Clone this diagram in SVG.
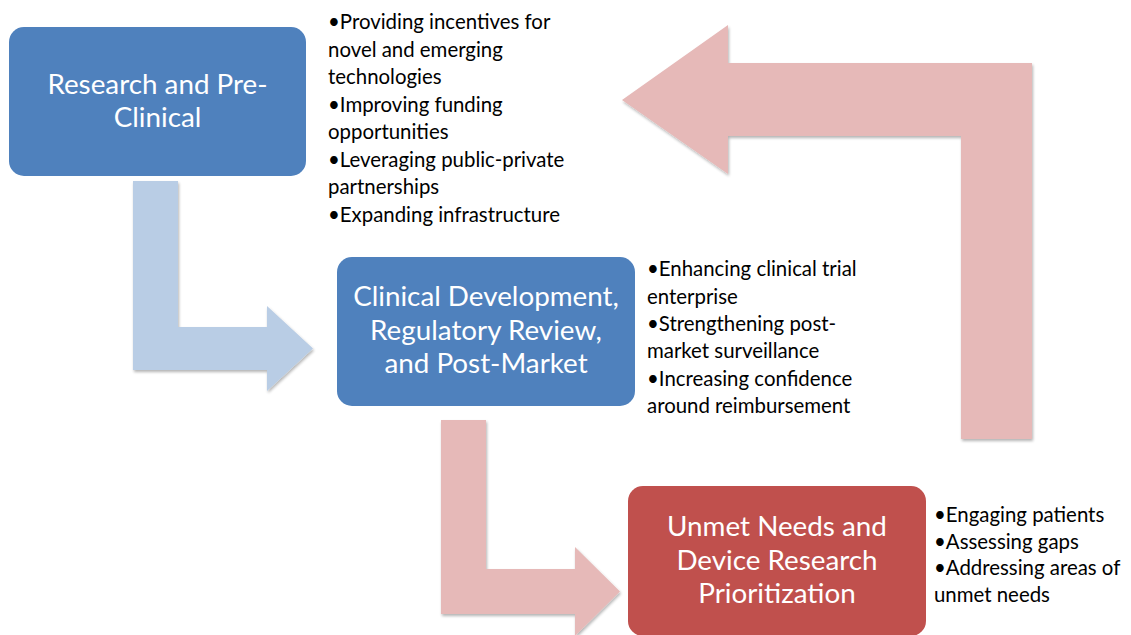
<svg xmlns="http://www.w3.org/2000/svg" width="1131" height="635" viewBox="0 0 1131 635">
  <style>
    .box-blue { fill: #4F81BD; }
    .box-red { fill: #C0504D; }
    .arrow-blue { fill: #B9CDE5; filter: url(#shadow); }
    .arrow-red { fill: #E6B9B8; filter: url(#shadow); }
    .title { font-family: Lato, "Liberation Sans", sans-serif; font-size: 27.8px; fill: #FFFFFF; text-anchor: middle; }
    .bullets { font-family: Lato, "Liberation Sans", sans-serif; font-size: 20.4px; fill: #000000; }
  </style>
  <defs>
    <filter id="shadow" x="-10%" y="-10%" width="130%" height="130%">
      <feGaussianBlur in="SourceAlpha" stdDeviation="1.5"/>
      <feOffset dx="1" dy="2" result="off"/>
      <feComponentTransfer><feFuncA type="linear" slope="0.3"/></feComponentTransfer>
      <feMerge><feMergeNode/><feMergeNode in="SourceGraphic"/></feMerge>
    </filter>
  </defs>
  <rect width="1131" height="635" fill="#FFFFFF"/>

  <!-- bent block arrows linking the stages -->
  <g id="connectors">
    <path class="arrow-blue" d="M133,181 H178 V327 H267 V306 L313,348.5 L267,391 V370 H133 Z"/>
    <path class="arrow-red" d="M441,420 H486 V569 H575 V547 L620,591.5 L575,636 V614 H441 Z"/>
    <path class="arrow-red" d="M622,100 L728,25 V63 H1032 V439 H961 V136 H728 V174 Z"/>
  </g>

  <g id="research">
    <rect class="box-blue" x="9" y="27" width="297" height="149" rx="15"/>
    <text class="title" x="157.5" y="94">Research and Pre-</text>
    <text class="title" x="157.5" y="127">Clinical</text>
    <text class="bullets">
      <tspan x="328" y="29">•Providing incentives for</tspan>
      <tspan x="328" y="56.5">novel and emerging</tspan>
      <tspan x="328" y="84">technologies</tspan>
      <tspan x="328" y="111.5">•Improving funding</tspan>
      <tspan x="328" y="139">opportunities</tspan>
      <tspan x="328" y="166.5">•Leveraging public-private</tspan>
      <tspan x="328" y="194">partnerships</tspan>
      <tspan x="328" y="221.5">•Expanding infrastructure</tspan>
    </text>
  </g>

  <g id="clinical">
    <rect class="box-blue" x="337" y="257" width="298" height="149" rx="15"/>
    <text class="title" x="486" y="306">Clinical Development,</text>
    <text class="title" x="486" y="340">Regulatory Review,</text>
    <text class="title" x="486" y="373">and Post-Market</text>
    <text class="bullets">
      <tspan x="647" y="276">•Enhancing clinical trial</tspan>
      <tspan x="647" y="303.5">enterprise</tspan>
      <tspan x="647" y="331">•Strengthening post-</tspan>
      <tspan x="647" y="358">market surveillance</tspan>
      <tspan x="647" y="385.5">•Increasing confidence</tspan>
      <tspan x="647" y="413">around reimbursement</tspan>
    </text>
  </g>

  <g id="unmet-needs">
    <rect class="box-red" x="628" y="486" width="298" height="150" rx="15"/>
    <text class="title" x="777" y="536">Unmet Needs and</text>
    <text class="title" x="777" y="570">Device Research</text>
    <text class="title" x="777" y="603">Prioritization</text>
    <text class="bullets">
      <tspan x="934" y="522">•Engaging patients</tspan>
      <tspan x="934" y="548.5">•Assessing gaps</tspan>
      <tspan x="934" y="575">•Addressing areas of</tspan>
      <tspan x="934" y="602">unmet needs</tspan>
    </text>
  </g>
</svg>
